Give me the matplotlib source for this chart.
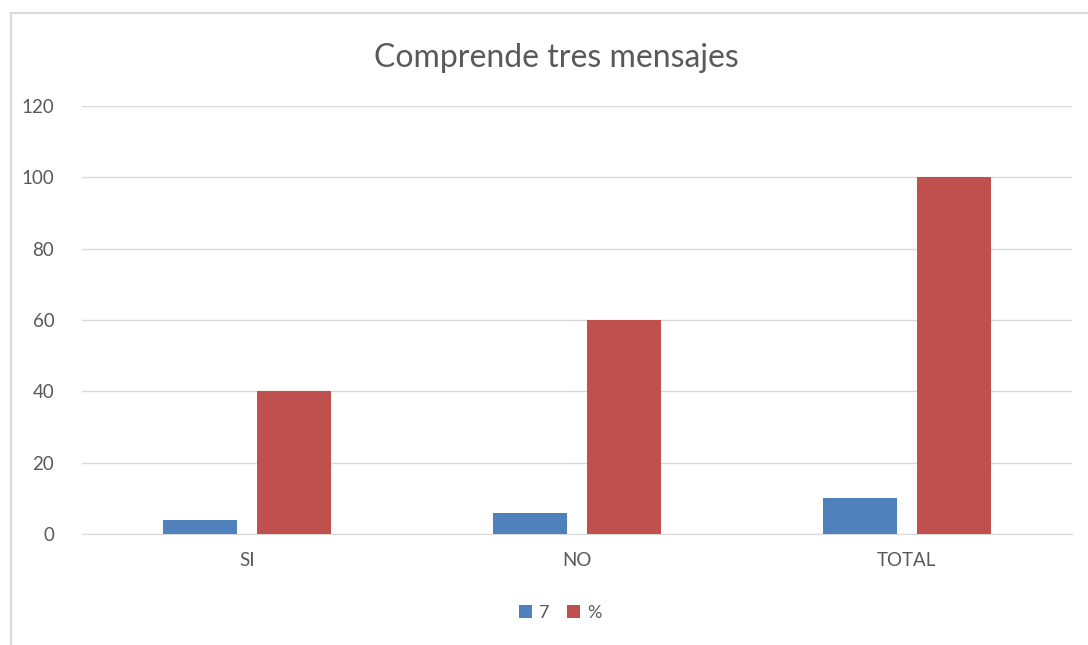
import matplotlib.pyplot as plt
import numpy as np
from matplotlib.lines import Line2D

categorias = ["SI", "NO", "TOTAL"]
valores_n = [4, 6, 10]
valores_pct = [40, 60, 100]
etiquetas_serie = ["7", "%"]

azul = "#4F81BD"
rojo = "#C0504D"
gris_texto = "#595959"

plt.rcParams['font.family'] = ['Lato', 'DejaVu Sans']

fig = plt.figure(figsize=(10.88, 6.45), dpi=100)
ax = fig.add_axes([0.0754, 0.172, 0.9096, 0.664])

x = np.arange(len(categorias))
ancho = 0.224
ax.bar(x - 0.143, valores_n, ancho, color=azul, label=etiquetas_serie[0], zorder=3)
ax.bar(x + 0.143, valores_pct, ancho, color=rojo, label=etiquetas_serie[1], zorder=3)

ax.set_xlim(-0.5, 2.5)
ax.set_ylim(0, 120)
ax.set_yticks(range(0, 121, 20))
ax.set_xticks(x)
ax.set_xticklabels(categorias)
ax.grid(axis="y", color="#d9d9d9", linewidth=1, zorder=0)
for lado in ["top", "right", "left"]:
    ax.spines[lado].set_visible(False)
ax.spines["bottom"].set_color("#d9d9d9")
ax.tick_params(axis="both", length=0, colors=gris_texto, labelsize=13.5)
ax.tick_params(axis="x", pad=13)
ax.tick_params(axis="y", pad=20)

fig.text(0.511, 0.91, "Comprende tres mensajes", ha="center", va="center",
         fontsize=23, color=gris_texto)

ax.legend(loc="center", bbox_to_anchor=(0.515, 0.05), bbox_transform=fig.transFigure,
          ncol=2, frameon=False, fontsize=13, handlelength=0.7, handleheight=0.7,
          columnspacing=1.0, handletextpad=0.4, labelcolor=gris_texto)

# marco del grafico (borde gris arriba e izquierda)
fig.add_artist(Line2D([11 / 1088, 11 / 1088], [0, 1 - 13 / 645],
                      transform=fig.transFigure, color="#d9d9d9", linewidth=1.5))
fig.add_artist(Line2D([11 / 1088, 1], [1 - 13 / 645, 1 - 13 / 645],
                      transform=fig.transFigure, color="#d9d9d9", linewidth=1.5))

fig.savefig("out.png", dpi=100)
